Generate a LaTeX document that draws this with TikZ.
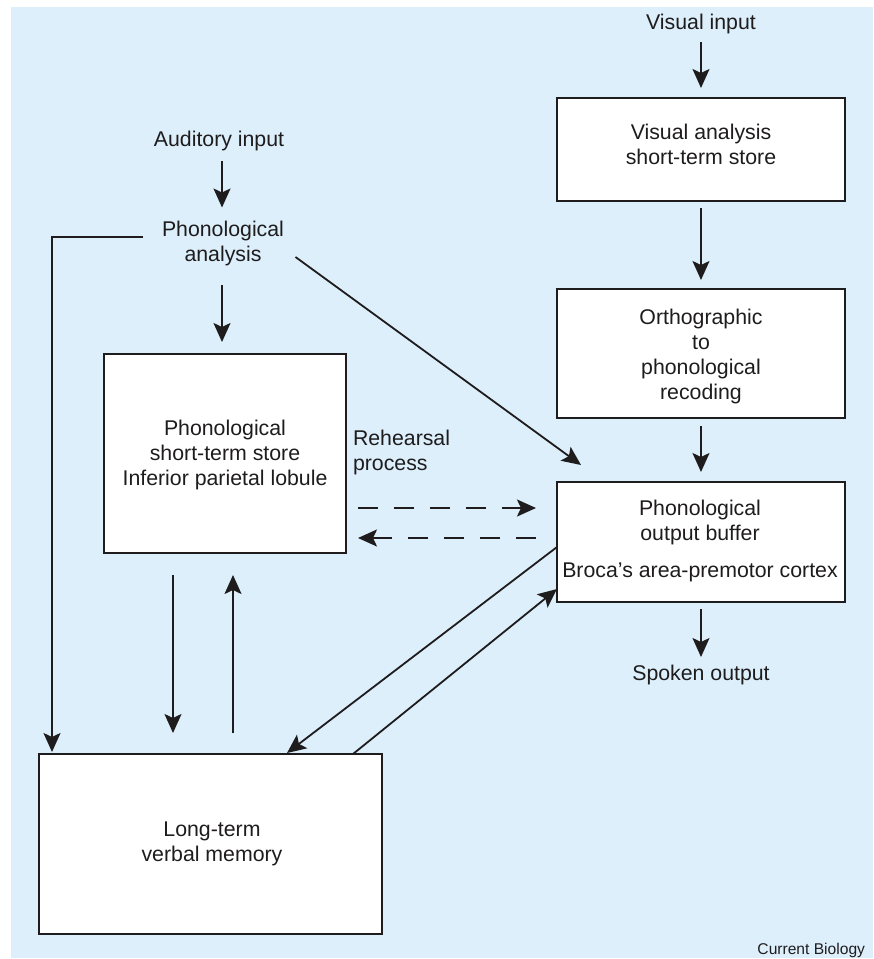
\documentclass[tikz,border=0pt]{standalone}
\usepackage{fontspec}
\setmainfont{Liberation Sans}
\usetikzlibrary{arrows.meta,calc}
\definecolor{panelblue}{RGB}{221,239,251}
\definecolor{ink}{RGB}{30,28,29}
\begin{document}
\begin{tikzpicture}[x=1pt,y=-1pt,
  every node/.style={inner sep=0pt, outer sep=0pt},
  txt/.style={font=\fontsize{21.3}{25}\selectfont, text=ink, align=center},
  box/.style={draw=ink, fill=white, line width=2pt},
  arr/.style={draw=ink, line width=1.8pt, -{Stealth[length=19pt,width=17pt,inset=4pt]}},
  dasharr/.style={arr, dash pattern=on 20pt off 16pt},
]
\useasboundingbox (0,0) rectangle (874,959);
\fill[panelblue] (11,7) rectangle (873,958);

% boxes
\node[box, minimum width=288pt, minimum height=103pt] (vis)  at (701,149.5) {};
\node[box, minimum width=288pt, minimum height=129pt] (orth) at (701,353.5) {};
\node[box, minimum width=288pt, minimum height=120pt] (outb) at (701,542) {};
\node[box, minimum width=242pt, minimum height=199pt] (sts)  at (225,453.5) {};
\node[box, minimum width=343pt, minimum height=180pt] (ltm)  at (210.5,844) {};

% labels
\node[txt] (visin)  at (701,24)  {\strut Visual input};
\node[txt] (vistxt) at (701,146.5) {\strut Visual analysis\\\strut short-term store};
\node[txt] (orthtxt) at (701,356.5) {\strut Orthographic\\\strut to\\\strut phonological\\\strut recoding};
\node[txt] (outbtxt) at (700,541) {\strut Phonological\\\strut output buffer\\[12pt]\strut Broca’s area-premotor cortex};
\node[txt] (spoken) at (701,675) {\strut Spoken output};
\node[txt] (audin)  at (219,141) {\strut Auditory input};
\node[txt] (phan)   at (223,244) {\strut Phonological\\\strut analysis};
\node[txt] (ststxt) at (225,455) {\strut Phonological\\\strut short-term store\\\strut Inferior parietal lobule};
\node[txt, align=left, anchor=west] (reh) at (353,452.5) {\strut Rehearsal\\\strut process};
\node[txt] (ltmtxt) at (212,843.5) {\strut Long-term\\\strut verbal memory};
\node[font=\fontsize{15.6}{18}\selectfont, text=ink, anchor=east] (credit) at (865,951) {\strut Current Biology};

\coordinate (axis) at (222,0);

% visual route
\draw[arr] ([yshift=-5.5pt]visin.south) -- ([yshift=10pt]vis.north);
\draw[arr] ([yshift=-7pt]vis.south) -- ([yshift=9pt]orth.north);
\draw[arr] ([yshift=-8pt]orth.south) -- ([yshift=10pt]outb.north);
\draw[arr] ([yshift=-7pt]outb.south) -- ([yshift=5.5pt]spoken.north);

% auditory route
\draw[arr] ([yshift=-7.5pt]audin.south -| axis) -- ([yshift=11.5pt]phan.north -| axis);
\draw[arr] ([yshift=-16pt]phan.south -| axis) -- ([yshift=12pt]sts.north -| axis);
\draw[arr] ($(phan.west)+(-19,-7)$) -| ($(ltm.north west)+(13,-2)$);
\draw[arr] ($(phan.east)+(11.5,13)$) -- ($(outb.north west)+(24,-17)$);

% store <-> long-term memory
\draw[arr] ($(sts.south)+(-52,22)$) -- ($(sts.south |- ltm.north)+(-52,-21)$);
\draw[arr] ($(sts.south |- ltm.north)+(8,-21)$) -- ($(sts.south)+(8,22)$);

% output buffer <-> long-term memory
\draw[arr] ($(outb.west)+(0,5)$) -- ($(ltm.north)+(76.5,-1)$);
\draw[arr] ($(ltm.north)+(142.5,0)$) -- ($(outb.south west)+(0,-13)$);

% rehearsal loop
\draw[dasharr] ($(sts.east)+(12,54.5)$) -- ($(outb.west)+(-21,-34)$);
\draw[dasharr] ($(outb.west)+(-21,-4)$) -- ($(sts.east)+(12,84.5)$);
\end{tikzpicture}
\end{document}
